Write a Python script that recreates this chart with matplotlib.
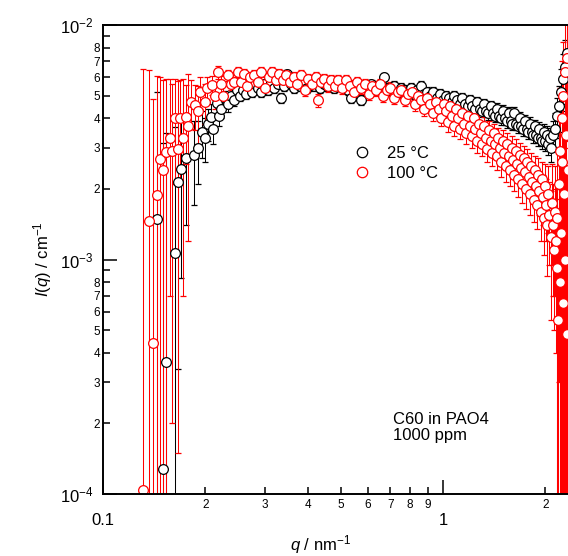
import matplotlib
matplotlib.use('Agg')
import matplotlib.pyplot as plt
from matplotlib import ticker
from matplotlib.lines import Line2D
import numpy as np

plt.rcParams['font.family'] = ['Liberation Sans', 'DejaVu Sans']
plt.rcParams['mathtext.fontset'] = 'custom'
plt.rcParams['mathtext.rm'] = 'Liberation Sans'
plt.rcParams['mathtext.it'] = 'Liberation Sans:italic'

# 25 degC series: q (nm^-1), I(q) (cm^-1), error
q_25 = [0.144, 0.150, 0.153, 0.163, 0.166, 0.170, 0.176, 0.185, 0.190, 0.196,
        0.200, 0.204, 0.208, 0.211, 0.216, 0.220, 0.223, 0.228, 0.233, 0.238,
        0.243, 0.248, 0.253, 0.258, 0.263, 0.268, 0.274, 0.280, 0.286, 0.292,
        0.298, 0.305, 0.312, 0.319, 0.326, 0.333, 0.340, 0.348, 0.356, 0.364,
        0.372, 0.380, 0.389, 0.398, 0.407, 0.416, 0.426, 0.436, 0.446, 0.456,
        0.467, 0.478, 0.489, 0.500, 0.512, 0.524, 0.536, 0.548, 0.561, 0.574,
        0.587, 0.600, 0.614, 0.628, 0.642, 0.657, 0.672, 0.687, 0.703, 0.719,
        0.735, 0.752, 0.769, 0.786, 0.804, 0.822, 0.840, 0.859, 0.878, 0.897,
        0.917, 0.937, 0.957, 0.978, 1.00, 1.02, 1.04, 1.06, 1.08, 1.10,
        1.12, 1.14, 1.16, 1.18, 1.20, 1.22, 1.24, 1.26, 1.28, 1.30,
        1.32, 1.34, 1.36, 1.38, 1.40, 1.42, 1.44, 1.46, 1.48, 1.50,
        1.52, 1.54, 1.56, 1.58, 1.60, 1.62, 1.64, 1.66, 1.68, 1.70,
        1.72, 1.74, 1.76, 1.78, 1.80, 1.82, 1.84, 1.86, 1.88, 1.90,
        1.92, 1.94, 1.96, 1.98, 2.00, 2.02, 2.04, 2.06, 2.08, 2.10,
        2.13, 2.16, 2.19, 2.22, 2.25, 2.28, 2.31]
I_25 = [1.49e-3, 1.28e-4, 3.66e-4, 1.07e-3, 2.14e-3, 2.43e-3, 2.71e-3, 2.8e-3, 3.0e-3, 3.5e-3,
        3.3e-3, 3.8e-3, 4.05e-3, 3.6e-3, 4.65e-3, 4.1e-3, 4.4e-3, 4.9e-3, 4.6e-3, 5.0e-3,
        4.8e-3, 5.3e-3, 5.0e-3, 5.3e-3, 5.1e-3, 5.5e-3, 5.2e-3, 5.6e-3, 5.4e-3, 5.2e-3,
        5.6e-3, 5.3e-3, 5.7e-3, 5.4e-3, 5.6e-3, 4.9e-3, 5.5e-3, 6.2e-3, 5.6e-3, 5.4e-3,
        5.7e-3, 5.5e-3, 5.8e-3, 5.4e-3, 5.7e-3, 5.5e-3, 5.8e-3, 5.4e-3, 5.6e-3, 5.5e-3,
        5.7e-3, 5.4e-3, 5.6e-3, 5.5e-3, 5.6e-3, 5.3e-3, 4.9e-3, 5.5e-3, 5.6e-3, 4.8e-3,
        5.5e-3, 5.4e-3, 5.6e-3, 5.3e-3, 5.5e-3, 5.6e-3, 6.0e-3, 5.4e-3, 5.3e-3, 5.5e-3,
        5.2e-3, 5.4e-3, 5.3e-3, 5.2e-3, 5.4e-3, 5.1e-3, 5.3e-3, 5.5e-3, 5.1e-3, 5.2e-3,
        5.0e-3, 5.2e-3, 4.9e-3, 5.1e-3, 4.8e-3, 5.0e-3, 4.9e-3, 4.7e-3, 5.0e-3, 4.8e-3,
        4.6e-3, 4.9e-3, 4.6e-3, 4.5e-3, 4.8e-3, 4.5e-3, 4.4e-3, 4.7e-3, 4.4e-3, 4.3e-3,
        4.6e-3, 4.3e-3, 4.2e-3, 4.5e-3, 4.2e-3, 4.1e-3, 4.4e-3, 4.1e-3, 4.0e-3, 4.3e-3,
        4.0e-3, 3.9e-3, 4.2e-3, 3.9e-3, 3.8e-3, 4.2e-3, 3.8e-3, 3.7e-3, 4.0e-3, 3.7e-3,
        3.6e-3, 3.9e-3, 3.6e-3, 3.5e-3, 3.8e-3, 3.5e-3, 3.4e-3, 3.7e-3, 3.4e-3, 3.3e-3,
        3.6e-3, 3.3e-3, 3.2e-3, 3.5e-3, 3.2e-3, 3.4e-3, 3.1e-3, 3.3e-3, 3.0e-3, 3.4e-3,
        3.6e-3, 4.1e-3, 4.5e-3, 5.2e-3, 5.9e-3, 6.6e-3, 7.6e-3]
err_25 = [3.7e-3, 3.0e-3, 3.1e-3, 2.6e-3, 1.8e-3, 1.6e-3, 1.3e-3, 1.1e-3, 9e-4, 8e-4,
          7e-4, 6e-4, 5.5e-4, 5e-4, 4.5e-4, 4e-4, 4e-4, 3.5e-4, 3.5e-4, 3e-4,
          3e-4, 3e-4, 2.5e-4, 2.5e-4, 2.5e-4, 2.5e-4, 2.5e-4, 2.5e-4, 2.5e-4, 2.5e-4,
          2.5e-4, 2.5e-4, 2.5e-4, 2.5e-4, 2.5e-4, 2.5e-4, 2.5e-4, 2.5e-4, 2.5e-4, 2.5e-4,
          2.5e-4, 2.5e-4, 2.5e-4, 2.5e-4, 2.5e-4, 2.5e-4, 2.5e-4, 2.5e-4, 2.5e-4, 2.5e-4,
          2.5e-4, 2.5e-4, 2.5e-4, 2.5e-4, 2.5e-4, 2.5e-4, 2.5e-4, 2.5e-4, 2.5e-4, 2.5e-4,
          2.5e-4, 2.5e-4, 2.5e-4, 2.5e-4, 2.5e-4, 2.5e-4, 2.5e-4, 2.5e-4, 2.5e-4, 2.5e-4,
          2.5e-4, 2.5e-4, 2.5e-4, 2.5e-4, 2.5e-4, 2.5e-4, 2.5e-4, 2.5e-4, 2.5e-4, 2.5e-4,
          2.5e-4, 2.5e-4, 2.5e-4, 2.5e-4, 2.5e-4, 2.5e-4, 2.5e-4, 2.5e-4, 2.5e-4, 2.5e-4,
          2.5e-4, 2.5e-4, 2.5e-4, 2.5e-4, 2.5e-4, 2.5e-4, 2.5e-4, 2.5e-4, 2.5e-4, 2.5e-4,
          2.5e-4, 2.5e-4, 2.5e-4, 2.5e-4, 2.5e-4, 2.5e-4, 2.5e-4, 2.5e-4, 2.5e-4, 2.5e-4,
          2.5e-4, 2.5e-4, 2.5e-4, 2.5e-4, 2.5e-4, 2.5e-4, 2.5e-4, 2.5e-4, 2.5e-4, 2.5e-4,
          2.5e-4, 2.5e-4, 2.5e-4, 2.5e-4, 2.5e-4, 2.5e-4, 2.5e-4, 2.5e-4, 2.5e-4, 2.5e-4,
          2.5e-4, 2.5e-4, 2.5e-4, 3e-4, 3e-4, 3e-4, 3e-4, 3.5e-4, 4e-4, 5e-4,
          6e-4, 8e-4, 1.0e-3, 1.3e-3, 1.6e-3, 2.0e-3, 2.5e-3]

# 100 degC series
q_100 = [0.131, 0.137, 0.140, 0.144, 0.147, 0.150, 0.153, 0.157, 0.160, 0.163,
         0.166, 0.169, 0.172, 0.175, 0.178, 0.181, 0.186, 0.190, 0.193, 0.199,
         0.202, 0.209, 0.213, 0.218, 0.222, 0.226, 0.233, 0.238, 0.243, 0.249,
         0.254, 0.259, 0.265, 0.271, 0.278, 0.285, 0.292, 0.300, 0.307, 0.315,
         0.322, 0.330, 0.338, 0.346, 0.355, 0.364, 0.373, 0.382, 0.393, 0.402,
         0.412, 0.422, 0.429, 0.438, 0.448, 0.458, 0.468, 0.480, 0.492,
         0.505, 0.518, 0.532, 0.546, 0.560, 0.575, 0.590, 0.605, 0.620, 0.636,
         0.652, 0.668, 0.684, 0.700, 0.718, 0.736, 0.754, 0.772, 0.790, 0.808,
         0.826, 0.844, 0.862, 0.880, 0.898, 0.916, 0.934, 0.952, 0.970, 0.988,
         1.005, 1.020, 1.035, 1.050, 1.065, 1.080, 1.095, 1.110, 1.125, 1.140,
         1.155, 1.170, 1.185, 1.200, 1.215, 1.230, 1.245, 1.260, 1.275, 1.290,
         1.305, 1.320, 1.335, 1.350, 1.365, 1.380, 1.395, 1.410, 1.425, 1.440,
         1.455, 1.470, 1.485, 1.500, 1.515, 1.530, 1.545, 1.560, 1.575, 1.590,
         1.605, 1.620, 1.635, 1.650, 1.665, 1.680, 1.695, 1.710, 1.725, 1.740,
         1.755, 1.770, 1.785, 1.800, 1.815, 1.830, 1.845, 1.860, 1.875, 1.890,
         1.905, 1.920, 1.935, 1.950, 1.965, 1.980, 1.995, 2.010, 2.025, 2.040,
         2.055, 2.070, 2.085, 2.100, 2.115, 2.130, 2.145,
         2.16, 2.17, 2.18, 2.19, 2.20, 2.21, 2.22, 2.23, 2.24, 2.25,
         2.26, 2.27, 2.28, 2.29, 2.30, 2.31, 2.32, 2.33]
I_100 = [1.04e-4, 1.46e-3, 4.4e-4, 1.88e-3, 2.68e-3, 2.4e-3, 2.87e-3, 3.3e-3, 2.9e-3, 4.0e-3,
         2.95e-3, 4.0e-3, 3.3e-3, 4.05e-3, 3.7e-3, 4.7e-3, 4.55e-3, 4.3e-3, 5.2e-3, 4.7e-3,
         5.4e-3, 5.55e-3, 5.0e-3, 6.3e-3, 5.6e-3, 5.0e-3, 6.1e-3, 5.6e-3, 5.7e-3, 6.3e-3,
         5.7e-3, 6.2e-3, 5.5e-3, 6.0e-3, 6.1e-3, 5.7e-3, 6.3e-3, 5.4e-3, 6.0e-3, 6.3e-3,
         5.8e-3, 6.2e-3, 5.8e-3, 6.1e-3, 5.7e-3, 6.0e-3, 5.6e-3, 6.1e-3, 5.3e-3, 5.9e-3,
         5.6e-3, 6.0e-3, 4.78e-3, 5.7e-3, 5.9e-3, 5.5e-3, 5.8e-3, 5.5e-3, 5.8e-3,
         5.4e-3, 5.8e-3, 5.5e-3, 5.2e-3, 5.7e-3, 5.4e-3, 5.6e-3, 5.1e-3, 5.5e-3, 5.3e-3,
         5.6e-3, 5.0e-3, 5.3e-3, 5.4e-3, 4.9e-3, 5.2e-3, 5.3e-3, 4.8e-3, 5.1e-3, 5.2e-3,
         4.6e-3, 5.0e-3, 4.8e-3, 4.4e-3, 4.9e-3, 4.6e-3, 4.2e-3, 4.7e-3, 4.4e-3, 4.0e-3,
         4.6e-3, 4.3e-3, 3.85e-3, 4.5e-3, 4.1e-3, 3.7e-3, 4.4e-3, 4.0e-3, 3.6e-3, 4.2e-3,
         3.8e-3, 3.45e-3, 4.1e-3, 3.7e-3, 3.35e-3, 4.0e-3, 3.6e-3, 3.2e-3, 3.8e-3, 3.45e-3,
         3.1e-3, 3.7e-3, 3.3e-3, 2.95e-3, 3.55e-3, 3.2e-3, 2.85e-3, 3.45e-3, 3.1e-3, 2.75e-3,
         3.3e-3, 3.0e-3, 2.6e-3, 3.2e-3, 2.85e-3, 2.5e-3, 3.1e-3, 2.75e-3, 2.4e-3, 3.0e-3,
         2.65e-3, 2.3e-3, 2.9e-3, 2.55e-3, 2.2e-3, 2.8e-3, 2.45e-3, 2.1e-3, 2.7e-3, 2.35e-3,
         2.0e-3, 2.6e-3, 2.25e-3, 1.9e-3, 2.5e-3, 2.15e-3, 1.8e-3, 2.4e-3, 2.05e-3, 1.7e-3,
         2.3e-3, 1.95e-3, 1.6e-3, 2.2e-3, 1.85e-3, 1.5e-3, 2.05e-3, 1.7e-3, 1.4e-3, 1.9e-3,
         1.55e-3, 1.25e-3, 1.75e-3, 1.4e-3, 1.1e-3, 1.6e-3, 1.2e-3,
         9.2e-4, 1.5e-3, 5.5e-4, 2.1e-3, 8.0e-4, 2.9e-3, 1.3e-3, 4.0e-3, 2.6e-3, 6.5e-4,
         5.0e-3, 1.9e-3, 1.0e-3, 6.3e-3, 3.4e-3, 4.8e-4, 7.2e-3, 2.4e-3]
err_100 = [6.4e-3, 5.0e-3, 4.4e-3, 4.2e-3, 3.3e-3, 3.4e-3, 3.0e-3, 2.6e-3, 2.7e-3, 1.9e-3,
           2.8e-3, 1.8e-3, 2.6e-3, 1.5e-3, 2.5e-3, 1.1e-3, 1.0e-3, 1.2e-3, 8e-4, 9e-4,
           6e-4, 5e-4, 6e-4, 4e-4, 4.5e-4, 5e-4, 3.5e-4, 3e-4, 3e-4, 3e-4,
           3e-4, 3e-4, 3e-4, 3e-4, 3e-4, 3e-4, 3e-4, 3e-4, 3e-4, 3e-4,
           3e-4, 3e-4, 3e-4, 3e-4, 3e-4, 3e-4, 3e-4, 3e-4, 3e-4, 3e-4,
           3e-4, 3e-4, 3e-4, 3e-4, 3e-4, 3e-4, 3e-4, 3e-4, 3e-4,
           3e-4, 3e-4, 3e-4, 3e-4, 3e-4, 3e-4, 3e-4, 3e-4, 3e-4, 3e-4,
           3e-4, 3e-4, 3e-4, 3e-4, 3e-4, 3e-4, 3e-4, 3e-4, 3e-4, 3e-4,
           3e-4, 3e-4, 3e-4, 3e-4, 3e-4, 3e-4, 3e-4, 3e-4, 3e-4, 3e-4,
           3.5e-4, 3.5e-4, 3.5e-4, 3.5e-4, 3.5e-4, 3.5e-4, 3.5e-4, 3.5e-4, 3.5e-4, 3.5e-4,
           3.5e-4, 3.5e-4, 3.5e-4, 3.5e-4, 3.5e-4, 3.5e-4, 3.5e-4, 3.5e-4, 3.5e-4, 3.5e-4,
           3.5e-4, 3.5e-4, 3.5e-4, 3.5e-4, 3.5e-4, 3.5e-4, 3.5e-4, 3.5e-4, 3.5e-4, 3.5e-4,
           3.5e-4, 3.5e-4, 3.5e-4, 3.5e-4, 3.5e-4, 3.5e-4, 3.5e-4, 3.5e-4, 3.5e-4, 3.5e-4,
           3.5e-4, 3.5e-4, 3.5e-4, 3.5e-4, 3.5e-4, 3.5e-4, 3.5e-4, 3.5e-4, 3.5e-4, 3.5e-4,
           3.5e-4, 3.5e-4, 3.5e-4, 3.5e-4, 3.5e-4, 3.5e-4, 3.5e-4, 3.5e-4, 3.5e-4, 3.5e-4,
           4e-4, 4e-4, 4e-4, 4e-4, 4.5e-4, 4.5e-4, 5e-4, 5e-4, 5.5e-4, 6e-4,
           6e-4, 7e-4, 8e-4, 7e-4, 6e-4, 9e-4, 8e-4,
           9e-4, 1.4e-3, 1.0e-3, 1.8e-3, 1.2e-3, 2.5e-3, 1.5e-3, 3.0e-3, 2.7e-3, 1.5e-3,
           3.5e-3, 2.2e-3, 2.0e-3, 4.0e-3, 3.5e-3, 2.0e-3, 4.0e-3, 3.0e-3]

assert len(q_25) == len(I_25) == len(err_25)
assert len(q_100) == len(I_100) == len(err_100)

x_major = [0.1, 1.0]
x_major_labels = ['0.1', '1']
x_minor = [0.2, 0.3, 0.4, 0.5, 0.6, 0.7, 0.8, 0.9, 2.0]
x_minor_labels = ['2', '3', '4', '5', '6', '7', '8', '9', '2']
y_major = [1e-4, 1e-3, 1e-2]
y_major_labels = ['$10^{-4}$', '$10^{-3}$', '$10^{-2}$']
y_minor = [2e-4, 3e-4, 4e-4, 5e-4, 6e-4, 7e-4, 8e-4, 9e-4,
           2e-3, 3e-3, 4e-3, 5e-3, 6e-3, 7e-3, 8e-3, 9e-3]
y_minor_labels = ['2', '3', '4', '5', '6', '7', '8', '',
                  '2', '3', '4', '5', '6', '7', '8', '']

fig = plt.figure(figsize=(5.68, 5.56), dpi=100)
ax = fig.add_axes([103 / 568, 62 / 556, 465 / 568, 469 / 556])

ax.errorbar(q_25, I_25, yerr=err_25, fmt='o', ms=7, mfc='white', mec='black',
            mew=0.9, ecolor='black', elinewidth=0.75, capsize=2, capthick=0.75)
ax.errorbar(q_100, I_100, yerr=err_100, fmt='o', ms=7, mfc='white', mec='red',
            mew=0.9, ecolor='red', elinewidth=0.75, capsize=2, capthick=0.75)

ax.set_xscale('log')
ax.set_yscale('log')
ax.set_xlim(0.1, 2.33)
ax.set_ylim(1e-4, 1e-2)

ax.xaxis.set_major_locator(ticker.FixedLocator(x_major))
ax.xaxis.set_major_formatter(ticker.FixedFormatter(x_major_labels))
ax.xaxis.set_minor_locator(ticker.FixedLocator(x_minor))
ax.xaxis.set_minor_formatter(ticker.FixedFormatter(x_minor_labels))
ax.yaxis.set_major_locator(ticker.FixedLocator(y_major))
ax.yaxis.set_major_formatter(ticker.FixedFormatter(y_major_labels))
ax.yaxis.set_minor_locator(ticker.FixedLocator(y_minor))
ax.yaxis.set_minor_formatter(ticker.FixedFormatter(y_minor_labels))

ax.tick_params(which='both', direction='in', top=False, right=False, width=1.1)
ax.tick_params(which='major', length=10, labelsize=12)
ax.tick_params(which='minor', length=5, labelsize=8.5)
ax.tick_params(axis='x', which='major', pad=13.5)
ax.tick_params(axis='x', which='minor', pad=3.5)
ax.tick_params(axis='y', which='major', pad=7)
ax.tick_params(axis='y', which='minor', pad=2)

ax.spines['right'].set_visible(False)
for s in ['left', 'top', 'bottom']:
    ax.spines[s].set_linewidth(1.4)

ax.set_xlabel('$q$ / nm$^{-1}$', fontsize=12)
ax.xaxis.set_label_coords(0.467, -0.083)
ax.set_ylabel('$I$($q$) / cm$^{-1}$', fontsize=12)
ax.yaxis.set_label_coords(-0.105, 0.5)

handles = [Line2D([], [], ls='none', marker='o', ms=7.5, mfc='white', mec='black', mew=0.9),
           Line2D([], [], ls='none', marker='o', ms=7.5, mfc='white', mec='red', mew=0.9)]
ax.legend(handles, ['25 °C', '100 °C'], loc='upper left', bbox_to_anchor=(0.539, 0.742),
          frameon=False, fontsize=12, handlelength=1.0, handletextpad=1.0,
          borderpad=0, borderaxespad=0, labelspacing=0.3)

ax.text(0.624, 0.1748, 'C60 in PAO4\n1000 ppm', transform=ax.transAxes,
        fontsize=12, va='top', ha='left', linespacing=1.1)

plt.savefig('out.png', dpi=100)
